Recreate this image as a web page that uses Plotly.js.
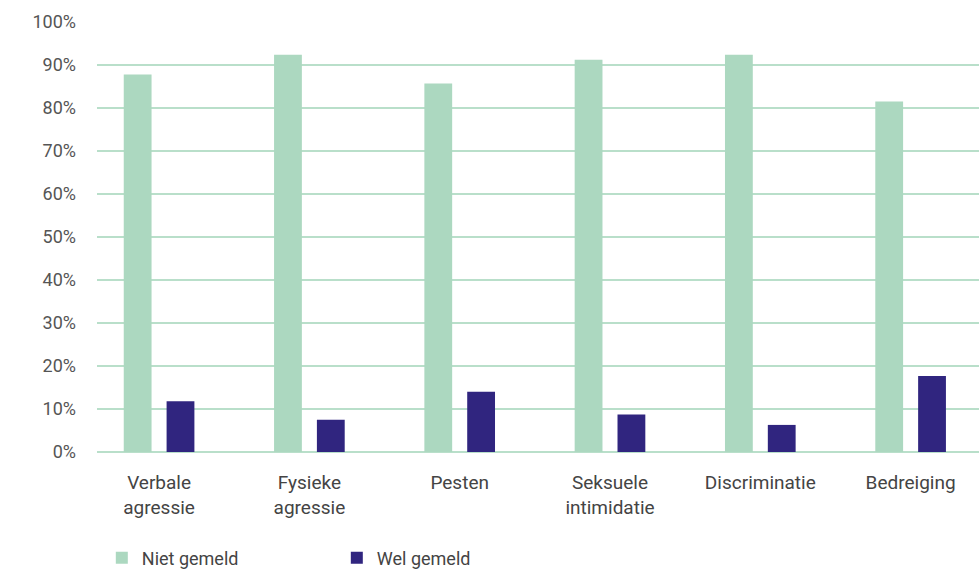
<!DOCTYPE html>
<html>
<head>
<meta charset="utf-8">
<script src="https://cdn.plot.ly/plotly-3.0.1.min.js"></script>
<style>html,body{margin:0;padding:0;background:#fff;}#chart{width:979px;height:574px;}</style>
</head>
<body>
<div id="chart"></div>
<script>
const categories = ["Verbale<br>agressie", "Fysieke<br>agressie", "Pesten", "Seksuele<br>intimidatie", "Discriminatie", "Bedreiging"];
const nietGemeld = [87.8, 92.4, 85.7, 91.2, 92.4, 81.5];
const welGemeld = [11.8, 7.5, 14.0, 8.7, 6.3, 17.7];
const yTickVals = [0, 10, 20, 30, 40, 50, 60, 70, 80, 90, 100];
const yTickText = ["0%", "10%", "20%", "30%", "40%", "50%", "60%", "70%", "80%", "90%", "100%"];
const idx = categories.map((c, i) => i);

const fontFam = "Roboto, 'Open Sans', sans-serif";
const data = [
  {type: "bar", name: "Niet gemeld", x: idx, y: nietGemeld, width: 0.185, offset: -0.235,
   marker: {color: "#acd8c0"}, hoverinfo: "skip"},
  {type: "bar", name: "Wel gemeld", x: idx, y: welGemeld, width: 0.185, offset: 0.05,
   marker: {color: "#30257f"}, hoverinfo: "skip"}
];
const layout = {
  width: 979, height: 574,
  margin: {l: 97, r: 0, t: 22, b: 122},
  paper_bgcolor: "#fff", plot_bgcolor: "#fff",
  barmode: "overlay",
  font: {family: fontFam, size: 18, color: "#444"},
  xaxis: {range: [-0.413, 5.455], tickvals: idx, ticktext: categories, showgrid: false,
          zeroline: false, showline: false, ticks: "", ticklabelstandoff: 17,
          tickfont: {family: fontFam, size: 19, color: "#444"}},
  yaxis: {range: [0, 100], tickvals: yTickVals, ticktext: yTickText, showgrid: true,
          gridcolor: "#b9dfca", gridwidth: 1.5, zeroline: true, zerolinecolor: "#b9dfca", zerolinewidth: 2,
          showline: false, ticks: "", ticklabelstandoff: 20,
          tickfont: {family: fontFam, size: 18, color: "#555"}},
  showlegend: true,
  legend: {orientation: "h", xref: "container", yref: "container", x: 0.104, y: 0.028,
           xanchor: "left", yanchor: "middle", entrywidth: 190, entrywidthmode: "pixels",
           font: {family: fontFam, size: 18, color: "#444"}, bgcolor: "rgba(0,0,0,0)"}
};
Plotly.newPlot("chart", data, layout, {displayModeBar: false, staticPlot: true});
</script>
</body>
</html>
